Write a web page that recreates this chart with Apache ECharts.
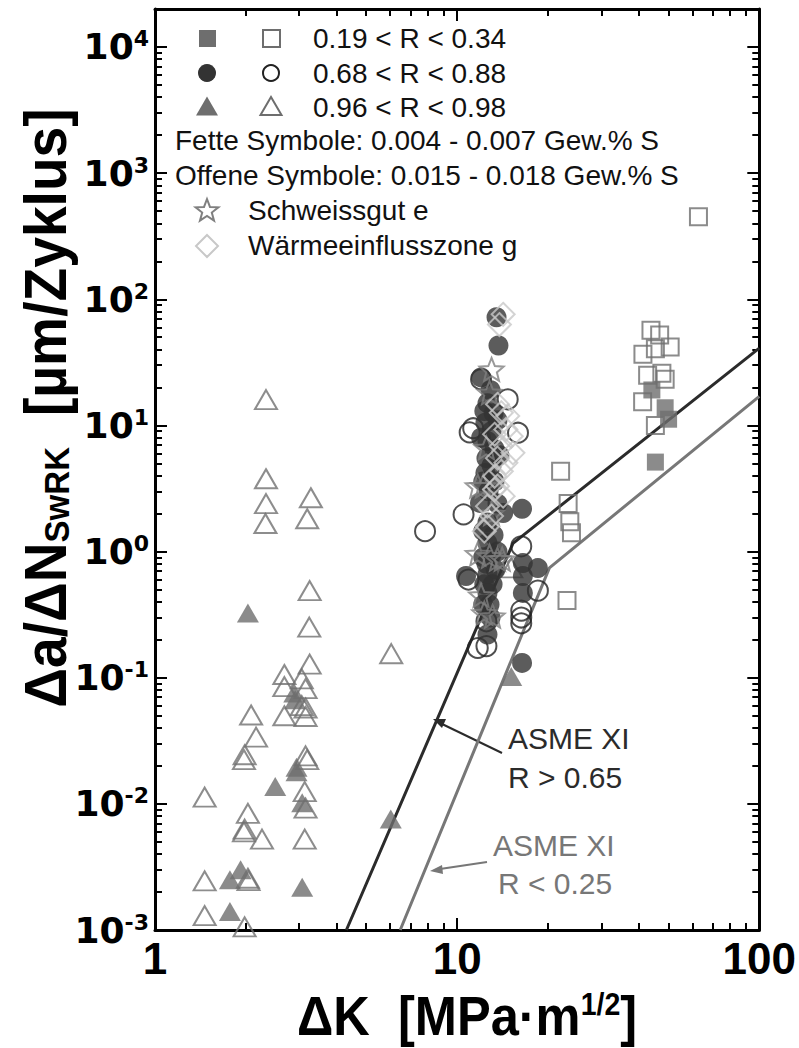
<!DOCTYPE html>
<html><head><meta charset="utf-8">
<script src="https://cdn.jsdelivr.net/npm/echarts@6/dist/echarts.min.js"></script>
<style>html,body{margin:0;padding:0;background:#fff}#c{width:799px;height:1048px}</style>
</head><body><div id="c"></div>
<script>
// ---- tick values / labels ----
const xMajorTicks = [1, 10, 100];
const xTickLabels = ['1', '10', '100'];
const yMajorTicks = [0.001, 0.01, 0.1, 1, 10, 100, 1000, 10000];
const yTickExponents = ['-3', '-2', '-1', '0', '1', '2', '3', '4'];
const legendTexts = ['0.19 < R < 0.34', '0.68 < R < 0.88', '0.96 < R < 0.98',
  'Fette Symbole: 0.004 - 0.007 Gew.% S', 'Offene Symbole: 0.015 - 0.018 Gew.% S',
  'Schweissgut e', 'Wärmeeinflusszone g'];

// ---- data: [ΔK, da/dN] ----
const filledSquares = [[44.1,19.1],[48.8,13.8],[50.1,11.2],[45.3,5.12]];
const openSquares = [[62.9,450],[43.8,56.8],[46.8,52.1],[50.7,41.9],[45.3,40.6],[41.2,36.6],
  [42.7,25],[47.6,25.9],[48.8,23.2],[41.1,15.4],[45.3,10.0],[22.0,4.33],[23.3,2.4],
  [23.6,1.72],[23.9,1.41],[23.1,0.41]];
const filledCircles = [[13.5,72],[13.7,43],[12.0,24],[12.9,19],[12.6,15],[12.3,13],[13.2,12.5],
  [13.6,11],[12.4,10.5],[13.0,9],[12.0,8],[12.6,7.5],[13.3,6.5],[13.8,5.8],[12.5,5.5],[13.0,4.8],
  [12.4,4.2],[12.2,3.6],[13.3,3.6],[12.7,3.0],[11.9,2.43],[13.6,2.4],[14.2,2.02],[12.6,1.7],
  [12.2,1.45],[13.2,1.35],[12.6,1.17],[13.6,1.0],[13.0,0.95],[12.2,0.9],[12.5,0.8],[13.4,0.72],
  [10.7,0.64],[12.6,0.66],[13.1,0.55],[12.3,0.55],[12.6,0.47],[12.8,0.38],[12.2,0.38],[12.9,0.3],
  [12.6,0.22],[16.4,2.18],[16.5,0.81],[18.5,0.74],[16.5,0.64],[16.5,0.47],[16.4,0.131]];
const openCircles = [[12.0,23.2],[14.7,16.1],[11.3,9.5],[11.0,8.8],[15.9,8.75],[10.5,1.97],
  [7.83,1.45],[16.3,1.1],[10.9,0.6],[18.5,0.49],[16.3,0.34],[16.3,0.30],[16.3,0.27],
  [12.5,0.28],[11.7,0.172],[12.5,0.178]];
const filledTriangles = [[2.03,0.326],[2.89,0.0757],[2.91,0.067],[2.94,0.0195],[2.94,0.018],
  [2.50,0.0137],[3.07,0.0102],[6.03,0.00757],[1.92,0.003],[1.77,0.0025],[3.07,0.00218],
  [1.77,0.0014],[15.1,0.102]];
const openTriangles = [[2.33,16],[2.33,3.78],[2.33,2.40],[2.32,1.67],[3.28,2.67],[3.19,1.82],
  [3.25,0.49],[3.24,0.252],[6.05,0.155],[3.25,0.128],[2.68,0.106],[3.06,0.098],[2.68,0.085],
  [3.15,0.082],[3.06,0.060],[3.15,0.0575],[2.68,0.0499],[3.15,0.0493],[2.08,0.0506],
  [2.16,0.0338],[1.98,0.0245],[1.97,0.0224],[3.15,0.024],[3.19,0.0224],[1.46,0.0113],
  [3.13,0.0125],[3.15,0.00925],[2.03,0.0084],[1.98,0.0063],[1.97,0.006],[2.26,0.00525],
  [3.13,0.00525],[2.03,0.00257],[2.04,0.00246],[1.46,0.00245],[1.46,0.0013],[1.98,0.00106],
  [15.1,0.743]];
const stars = [[13.0,27.8],[12.8,18.2],[12.5,6.65],[11.7,3.3],[12.2,3.3],[13.0,2.0],[11.7,0.96],
  [12.8,0.92],[13.6,0.87],[14.1,0.87],[12.3,0.326],[13.1,0.307],[12.0,0.45]];
const diamonds = [[14.2,76],[13.8,63],[13.6,14.7],[14.0,12.6],[14.7,11.9],[14.5,9.3],[15.1,8.2],
  [13.3,8.5],[14.0,6.85],[15.3,6.06],[13.6,5.5],[14.5,5.05],[14.0,4.33],[13.3,3.95],[13.6,3.3],
  [13.3,3.1],[14.2,2.75],[12.6,2.29],[13.0,1.91],[12.6,1.58],[12.3,1.45]];
const asmeHigh = [[4.3,0.001],[15.3,1.16],[100,41]];
const asmeLow = [[6.48,0.001],[20.2,0.743],[100,17]];

// minor tick values (2..9 per decade)
function minorTicks(lo, hi) {
  const out = [];
  for (let d = lo; d < hi; d *= 10) for (let m = 2; m <= 9; m++) { const v = +(m * d).toPrecision(3); if (v <= hi) out.push(v); }
  return out;
}
const xMinor = minorTicks(1, 100);
const yMinor = minorTicks(0.001, 20000);

const FONT = '"Liberation Sans", Arial, Helvetica, sans-serif';
const WIDEFONT = '"DejaVu Sans", Verdana, sans-serif';
const XMIN = 1, XMAX = 100, YMIN = 0.001, YMAX = 20000;

function xAx(pos, ticks, len, withLabel, showLine) {
  return {
    type: 'log', logBase: 10, min: XMIN, max: XMAX, position: pos, gridIndex: 0,
    axisLine: { show: showLine, onZero: false, lineStyle: { color: '#000', width: 3 } },
    axisTick: { show: true, inside: true, length: len, customValues: ticks, lineStyle: { color: '#000', width: 2 } },
    axisLabel: withLabel ? {
      show: true, customValues: xMajorTicks, margin: 6, color: '#000',
      fontFamily: FONT, fontWeight: 'bold', fontSize: 44,
      formatter: v => xTickLabels[xMajorTicks.findIndex(t => Math.abs(t - v) / t < 1e-6)] || ''
    } : { show: false },
    splitLine: { show: false }, minorTick: { show: false }
  };
}
function yAx(pos, ticks, len, withLabel, showLine) {
  return {
    type: 'log', logBase: 10, min: YMIN, max: YMAX, position: pos, gridIndex: 0,
    axisLine: { show: showLine, onZero: false, lineStyle: { color: '#000', width: 3 } },
    axisTick: { show: true, inside: true, length: len, customValues: ticks, lineStyle: { color: '#000', width: 2 } },
    axisLabel: withLabel ? {
      show: true, customValues: yMajorTicks, margin: 6, color: '#000',
      formatter: v => {
        const i = yMajorTicks.findIndex(t => Math.abs(t - v) / t < 1e-6);
        return i < 0 ? '' : '{b|10}{s|' + yTickExponents[i] + '}';
      },
      rich: {
        b: { fontFamily: WIDEFONT, fontWeight: 'bold', fontSize: 36, color: '#000' },
        s: { fontFamily: WIDEFONT, fontWeight: 'bold', fontSize: 22, color: '#000', verticalAlign: 'top', padding: [0, 0, 16, 0] }
      }
    } : { show: false },
    splitLine: { show: false }, minorTick: { show: false }
  };
}

const openStyle = c => ({ color: 'rgba(255,255,255,0)', borderColor: c, borderWidth: 2 });
const STAR = 'path://M0,-10L2.6,-3.6L9.5,-3.1L4.2,1.4L5.9,8.1L0,4.4L-5.9,8.1L-4.2,1.4L-9.5,-3.1L-2.6,-3.6Z';

function sc(name, data, symbol, size, style, z) {
  return { name, type: 'scatter', data, symbol, symbolSize: size, symbolKeepAspect: true,
    itemStyle: style, z: z || 3, silent: true, animation: false };
}
function ln(name, data, color) {
  return { name, type: 'line', data, showSymbol: false, symbol: 'none', z: 2,
    lineStyle: { color, width: 3 }, silent: true, animation: false };
}

// legend graphics
const LG = '#6e6e6e';
const tri = (cx, cy, w, h) => [[cx - w / 2, cy + h / 2], [cx + w / 2, cy + h / 2], [cx, cy - h / 2]];
const starPts = (cx, cy, r) => { const p = []; for (let i = 0; i < 10; i++) { const a = -Math.PI / 2 + i * Math.PI / 5; const rr = i % 2 ? r * 0.42 : r; p.push([cx + rr * Math.cos(a), cy + rr * Math.sin(a)]); } return p; };
const txt = (x, y, s, color, size) => ({ type: 'text', x, y, silent: true,
  style: { text: s, fill: color || '#111', font: (size || 28) + 'px ' + FONT, textVerticalAlign: 'middle', textAlign: 'left' } });

const graphics = [
  { type: 'rect', shape: { x: 199, y: 30, width: 17, height: 17 }, style: { fill: LG } },
  { type: 'rect', shape: { x: 263, y: 30, width: 17, height: 17 }, style: { fill: 'none', stroke: LG, lineWidth: 2 } },
  txt(313, 38, legendTexts[0]),
  { type: 'circle', shape: { cx: 207, cy: 73, r: 9 }, style: { fill: '#333' } },
  { type: 'circle', shape: { cx: 271, cy: 73, r: 8 }, style: { fill: 'none', stroke: '#222', lineWidth: 2 } },
  txt(313, 73, legendTexts[1]),
  { type: 'polygon', shape: { points: tri(207, 106, 22, 19) }, style: { fill: LG } },
  { type: 'polygon', shape: { points: tri(271, 106, 21, 18) }, style: { fill: 'none', stroke: LG, lineWidth: 2 } },
  txt(313, 107, legendTexts[2]),
  txt(175, 140, legendTexts[3]),
  txt(175, 175, legendTexts[4]),
  { type: 'polygon', shape: { points: starPts(207, 211, 12) }, style: { fill: 'none', stroke: '#808080', lineWidth: 2 } },
  txt(248, 210, legendTexts[5]),
  { type: 'polygon', shape: { points: [[207, 235], [218, 246], [207, 257], [196, 246]] }, style: { fill: 'none', stroke: '#c8c8c8', lineWidth: 2 } },
  txt(248, 245, legendTexts[6]),
  // annotations
  txt(508, 738, 'ASME XI', '#2b2b2b', 30),
  txt(508, 777, 'R > 0.65', '#2b2b2b', 30),
  txt(493, 845, 'ASME XI', '#777', 30),
  txt(498, 883, 'R < 0.25', '#777', 30),
  { type: 'line', shape: { x1: 502, y1: 753, x2: 440, y2: 723 }, style: { stroke: '#2b2b2b', lineWidth: 2 } },
  { type: 'polygon', shape: { points: [[433, 719], [446, 719], [442, 728]] }, style: { fill: '#2b2b2b' } },
  { type: 'line', shape: { x1: 487, y1: 862, x2: 440, y2: 869 }, style: { stroke: '#777', lineWidth: 2 } },
  { type: 'polygon', shape: { points: [[430, 871], [442, 865], [443, 874]] }, style: { fill: '#777' } },
  // axis titles
  { type: 'text', x: 45, y: 408, rotation: Math.PI / 2, scaleX: 0.92, silent: true,
    style: { text: '{a|Δa/ΔN}{sub|SwRK}{a|  [µm/Zyklus]}', textAlign: 'center', textVerticalAlign: 'middle',
      rich: { a: { font: 'bold 60px ' + FONT, fill: '#000' }, sub: { font: 'bold 36px ' + FONT, fill: '#000', padding: [24, 0, 0, 0] } } } },
  { type: 'text', x: 467, y: 1016, scaleX: 0.92, silent: true,
    style: { text: '{a|ΔK  [MPa·m}{sup|1/2}{a|]}', textAlign: 'center', textVerticalAlign: 'middle',
      rich: { a: { font: 'bold 55px ' + FONT, fill: '#000', lineHeight: 56 }, sup: { font: 'bold 31px ' + FONT, fill: '#000', lineHeight: 56, padding: [0, 0, 24, 0] } } } }
];

const chart = echarts.init(document.getElementById('c'), null, { renderer: 'svg', width: 799, height: 1048 });
chart.setOption({
  animation: false,
  backgroundColor: '#fff',
  grid: { left: 155, right: 36, top: 9, bottom: 118, containLabel: false },
  xAxis: [xAx('bottom', xMajorTicks, 12, true, true), xAx('bottom', xMinor, 7, false, false),
          xAx('top', xMajorTicks, 12, false, true), xAx('top', xMinor, 7, false, false)],
  yAxis: [yAx('left', yMajorTicks, 12, true, true), yAx('left', yMinor, 7, false, false),
          yAx('right', yMajorTicks, 12, false, true), yAx('right', yMinor, 7, false, false)],
  series: [
    ln('ASME XI R > 0.65', asmeHigh, '#2b2b2b'),
    ln('ASME XI R < 0.25', asmeLow, '#777777'),
    sc('open triangles', openTriangles, 'triangle', [22, 19], openStyle('#707070')),
    sc('filled triangles', filledTriangles, 'triangle', [22, 19], { color: LG }),
    sc('open squares', openSquares, 'rect', 17, openStyle('#6e6e6e')),
    sc('filled squares', filledSquares, 'rect', 17, { color: LG }),
    sc('open circles', openCircles, 'circle', 20, openStyle('#222')),
    sc('filled circles', filledCircles, 'circle', 20, { color: '#333' }),
    sc('Schweissgut e', stars, STAR, 24, openStyle('#808080')),
    sc('Wärmeeinflusszone g', diamonds, 'diamond', 23, openStyle('#c8c8c8'))
  ],
  graphic: graphics
});
</script></body></html>
